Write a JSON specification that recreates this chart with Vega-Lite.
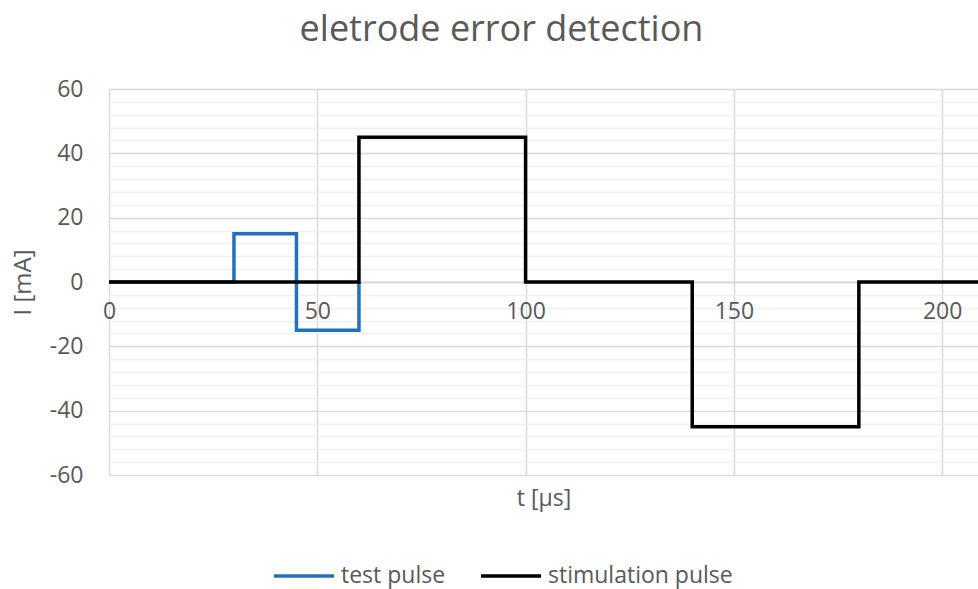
{
  "$schema": "https://vega.github.io/schema/vega-lite/v6.json",
  "width": 869,
  "height": 386,
  "autosize": {"type": "none"},
  "padding": {"left": 109, "top": 89, "right": 0, "bottom": 114},
  "background": "white",
  "title": {"text": "eletrode error detection", "fontSize": 36, "font": "Open Sans", "fontWeight": "normal", "color": "#595959", "anchor": "middle", "frame": "group", "dx": -42, "offset": 29},
  "config": {"view": {"stroke": null}, "font": "Open Sans"},
  "data": {"values": [
    {"series": "test pulse", "i": 1, "t": 0, "I": 0},
    {"series": "test pulse", "i": 2, "t": 30, "I": 0},
    {"series": "test pulse", "i": 3, "t": 30, "I": 15},
    {"series": "test pulse", "i": 4, "t": 45, "I": 15},
    {"series": "test pulse", "i": 5, "t": 45, "I": -15},
    {"series": "test pulse", "i": 6, "t": 60, "I": -15},
    {"series": "test pulse", "i": 7, "t": 60, "I": 0},
    {"series": "stimulation pulse", "i": 1, "t": 0, "I": 0},
    {"series": "stimulation pulse", "i": 2, "t": 60, "I": 0},
    {"series": "stimulation pulse", "i": 3, "t": 60, "I": 45},
    {"series": "stimulation pulse", "i": 4, "t": 100, "I": 45},
    {"series": "stimulation pulse", "i": 5, "t": 100, "I": 0},
    {"series": "stimulation pulse", "i": 6, "t": 140, "I": 0},
    {"series": "stimulation pulse", "i": 7, "t": 140, "I": -45},
    {"series": "stimulation pulse", "i": 8, "t": 180, "I": -45},
    {"series": "stimulation pulse", "i": 9, "t": 180, "I": 0},
    {"series": "stimulation pulse", "i": 10, "t": 210, "I": 0}
  ]},
  "encoding": {
    "x": {
      "field": "t", "type": "quantitative",
      "scale": {"domain": [0, 208.6], "nice": false, "zero": false},
      "axis": {
        "title": "t [µs]", "values": [0, 50, 100, 150, 200], "offset": -193,
        "domainColor": "#d9d9d9", "domainWidth": 2, "ticks": false,
        "gridColor": "#d9d9d9", "gridWidth": 1.5,
        "labelPadding": 18, "labelFontSize": 23, "labelColor": "#595959", "labelFlush": false,
        "titleY": 216, "titleBaseline": "middle", "titleFontSize": 23, "titleFontWeight": "normal", "titleColor": "#595959"
      }
    },
    "y": {
      "field": "I", "type": "quantitative",
      "scale": {"domain": [-60, 60], "nice": false},
      "axis": {
        "title": "I [mA]",
        "values": [-60, -56, -52, -48, -44, -40, -36, -32, -28, -24, -20, -16, -12, -8, -4, 0, 4, 8, 12, 16, 20, 24, 28, 32, 36, 40, 44, 48, 52, 56, 60],
        "labelExpr": "datum.value % 20 === 0 ? '' + datum.value : ''",
        "gridColor": {"condition": {"test": "datum.value % 20 === 0", "value": "#d9d9d9"}, "value": "#efefef"},
        "gridWidth": 1.5, "domain": false, "ticks": false,
        "labelPadding": 26, "labelFontSize": 23, "labelColor": "#595959", "labelFlush": false, "labelOverlap": false,
        "titleFontSize": 24, "titleFontWeight": "normal", "titleColor": "#595959",
        "titleX": -86, "titleY": 193, "titleBaseline": "middle", "titleAlign": "center"
      }
    },
    "order": {"field": "i", "type": "quantitative"},
    "color": {
      "field": "series", "type": "nominal",
      "scale": {"domain": ["test pulse", "stimulation pulse"], "range": ["#2272b9", "#000000"]},
      "legend": {
        "orient": "none", "legendX": 163, "legendY": 455, "direction": "horizontal", "title": null,
        "symbolType": "stroke", "symbolSize": 3600, "symbolStrokeWidth": 3.5,
        "labelFontSize": 23, "labelColor": "#595959", "labelOffset": 5, "labelLimit": 400, "columnPadding": 28
      }
    }
  },
  "layer": [
    {"transform": [{"filter": "datum.series === 'test pulse'"}], "mark": {"type": "line", "strokeWidth": 3.5, "clip": true}},
    {"transform": [{"filter": "datum.series === 'stimulation pulse'"}], "mark": {"type": "line", "strokeWidth": 3.5, "clip": true}}
  ]
}
